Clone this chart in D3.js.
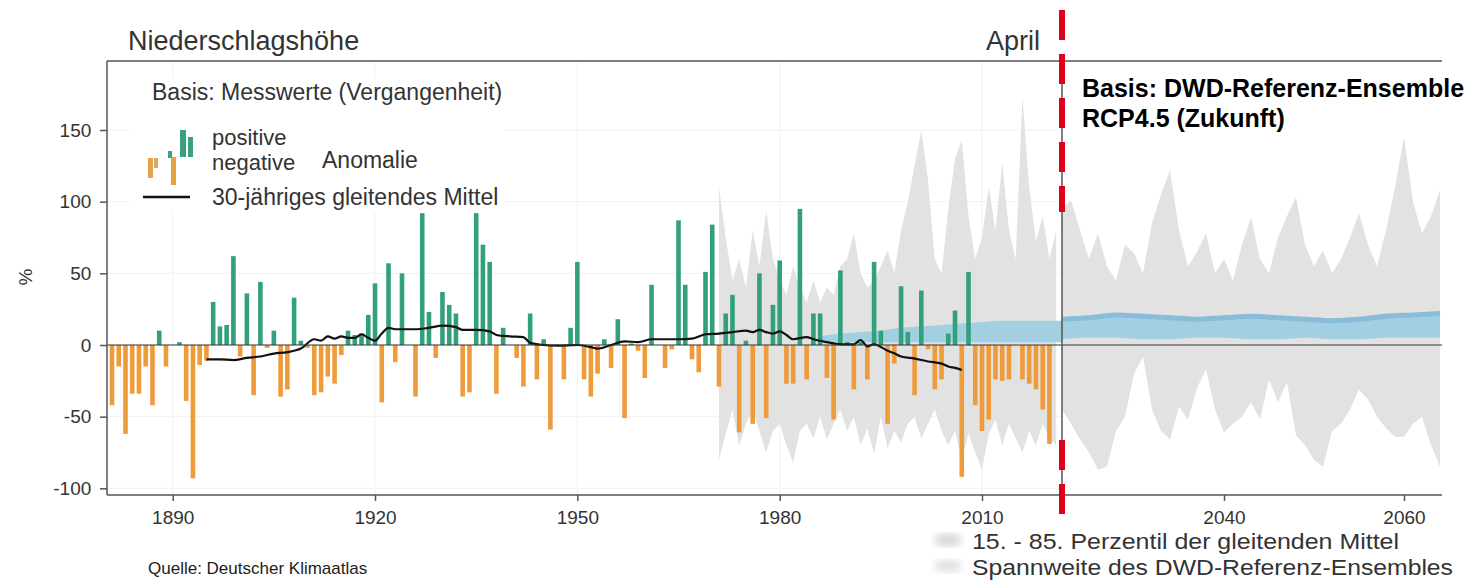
<!DOCTYPE html>
<html>
<head>
<meta charset="utf-8">
<script src="https://cdn.jsdelivr.net/npm/d3@7"></script>
<style>
  body { margin: 0; background: #fff; }
  svg { font-family: "Liberation Sans", Arial, sans-serif; }
</style>
</head>
<body>
<div id="chart"></div>
<script>
// April precipitation anomaly (%), 1881-2020
const firstYear = 1881;
const anomalies = [
  -42, -15, -62, -34, -34, -15, -42, 10, -15, 0,
  2, -39, -93, -14, -11, 30, 13, 14, 62, -8,
  36, -35, 44, -2, 10, -36, -31, 33, 3, -2,
  -35, -33, -22, -27, -7, 10, 7, 8, 21, 43,
  -40, 57, -12, 50, 0, -36, 92, 23, -9, 37,
  28, 22, -36, -33, 92, 70, 58, -34, 12, 0,
  -9, -29, 22, -24, 4, -59, 0, -24, 12, 58,
  -24, -36, -20, 4, -16, 18, -51, 1, -4, -23,
  42, 0, -16, -3, 87, 42, -10, -19, 51, 84,
  -29, 22, 35, -61, 3, -55, 50, -51, 28, 59,
  -27, -27, 95, -24, 22, 22, -23, -52, 52, 2,
  -31, 2, -24, 58, 10, -55, -13, 41, 9, -35,
  38, -3, -31, -24, 8, 24, -92, 51, -42, -60,
  -52, -24, -25, -24, 0, -24, -27, -31, -45, -69
];

// 30-jähriges gleitendes Mittel
const maYears = [1895, 1897, 1899, 1901, 1903, 1905, 1907, 1909, 1911, 1912, 1913, 1914, 1915, 1916, 1917, 1918, 1919, 1920,
  1921, 1922, 1923, 1924, 1926, 1928, 1930, 1932, 1933, 1935, 1937, 1938, 1940, 1942, 1943, 1945, 1947, 1950,
  1952, 1953, 1955, 1957, 1959, 1961, 1963, 1965, 1967, 1969, 1971, 1973, 1975, 1976, 1977, 1978, 1979, 1980,
  1981, 1982, 1984, 1985, 1987, 1989, 1991, 1992, 1993, 1994, 1996, 1997, 1998, 2000, 2002, 2004, 2005, 2006, 2007];
const maValues = [-10, -10, -10.5, -9, -8, -6, -5, -2.5, 4, 3, 6, 4.5, 6, 5, 5, 7.5, 5, 3,
  8, 12, 11, 11, 11, 12, 13.5, 12.5, 10.5, 10.5, 9.5, 7, 6, 5.5, 1.5, 0, -0.5, 0,
  -1.5, -2.5, 0, 2.5, 2, 4, 4, 4, 4.5, 7.5, 8, 9, 10, 9, 10.5, 9, 8, 9.5,
  7, 4, 5.5, 4, 2, 0.5, 0.5, 3.5, -1, 0.5, -4, -5.8, -8, -9.5, -11.5, -13, -15, -16, -17.5];

// Spannweite des DWD-Referenz-Ensembles, Vergangenheit (1971-2021)
const ensPastStart = 1971;
const ensPastUpper = [110, 75, 45, 60, 40, 80, 55, 94, 60, 45, 35, 55, 40, 30, 45, 30, 40, 35, 55, 60,
  78, 50, 40, 45, 55, 66, 50, 80, 100, 125, 150, 115, 60, 50, 95, 130, 143, 90, 60, 75,
  110, 80, 127, 80, 60, 173, 110, 72, 90, 60, 80];
const ensPastLower = [-80, -62, -45, -70, -55, -45, -60, -75, -60, -55, -70, -82, -60, -55, -65, -50, -66, -55, -45, -60,
  -50, -70, -58, -76, -50, -72, -60, -68, -55, -50, -65, -55, -45, -60, -70, -60, -80, -62, -75, -87,
  -62, -52, -70, -55, -65, -75, -60, -70, -55, -65, -70];

// Spannweite des DWD-Referenz-Ensembles, Zukunft (2022-2064)
const ensFutStart = 2022;
const ensFutUpper = [95, 101, 80, 60, 78, 55, 45, 70, 64, 50, 85, 105, 122, 80, 55, 65, 78, 50, 60, 45,
  70, 89, 60, 50, 75, 90, 103, 70, 55, 66, 50, 60, 75, 92, 70, 55, 80, 110, 145, 100, 78, 90, 108];
const ensFutLower = [-45, -55, -66, -75, -87, -85, -60, -50, -20, -8, -45, -60, -66, -43, -52, -30, -17, -45, -61, -55,
  -50, -40, -52, -24, -40, -26, -63, -70, -80, -85, -60, -55, -45, -31, -38, -50, -58, -64, -64, -55, -50, -70, -85];

// 15. - 85. Perzentil der gleitenden Mittel
const pctPastYears = [1986, 1989, 1992, 1995, 1998, 2001, 2004, 2007, 2010, 2013, 2016, 2019, 2022];
const pctPastUpper = [6, 8, 9, 10, 12, 13, 14, 15, 16, 17, 17, 17, 17];
const pctPastLower = [2, 2, 2, 2, 2, 2, 2, 2, 2, 2, 2, 2, 2];
const pctFutYears = [2022, 2025, 2028, 2031, 2034, 2037, 2040, 2043, 2046, 2049, 2052, 2055, 2058, 2061, 2064];
const pctFutUpper = [18, 19, 21, 20, 19, 18, 19, 20, 19, 18, 17, 18, 20, 21, 22];
const pctFutLower = [4, 5, 5, 4, 4, 5, 5, 4, 4, 5, 4, 4, 5, 5, 5];

const pastTicks = [1890, 1920, 1950, 1980, 2010];
const futTicks = [2040, 2060];
const yTicks = [150, 100, 50, 0, -50, -100];

const chartWidth = 1473, chartHeight = 584;
const plotLeft = 107, plotRight = 1442, plotTop = 61, plotBottom = 495, splitX = 1062;

const svg = d3.select('#chart').append('svg')
  .attr('width', chartWidth).attr('height', chartHeight);

const xPast = d3.scaleLinear().domain([1890, 2010]).range([172.7, 982]);
const xFut = d3.scaleLinear().domain([2040, 2060]).range([1224, 1404]);
const y = d3.scaleLinear().domain([0, 150]).range([345, 130]);

const defs = svg.append('defs');
defs.append('clipPath').attr('id', 'clipPast').append('rect')
  .attr('x', plotLeft).attr('y', plotTop).attr('width', splitX - plotLeft).attr('height', plotBottom - plotTop);
defs.append('clipPath').attr('id', 'clipFut').append('rect')
  .attr('x', splitX).attr('y', plotTop).attr('width', plotRight - splitX).attr('height', plotBottom - plotTop);

// faint grid
const grid = svg.append('g').attr('stroke', '#f1f1f1').attr('stroke-width', 1);
grid.selectAll('.hg').data(yTicks.filter(d => d !== 0)).enter().append('line')
  .attr('x1', plotLeft).attr('x2', splitX).attr('y1', d => y(d)).attr('y2', d => y(d));
grid.selectAll('.vg').data(pastTicks).enter().append('line')
  .attr('x1', d => xPast(d)).attr('x2', d => xPast(d)).attr('y1', plotTop).attr('y2', plotBottom);

// legend background
svg.append('rect').attr('x', 130).attr('y', 78).attr('width', 375).attr('height', 135).attr('fill', '#fff');

const past = svg.append('g').attr('clip-path', 'url(#clipPast)');
const fut = svg.append('g').attr('clip-path', 'url(#clipFut)');

const ensPast = ensPastUpper.map((u, i) => ({ year: ensPastStart + i, hi: u, lo: ensPastLower[i] }));
const ensFut = ensFutUpper.map((u, i) => ({ year: ensFutStart + i, hi: u, lo: ensFutLower[i] }));
const pctPast = pctPastYears.map((yr, i) => ({ year: yr, hi: pctPastUpper[i], lo: pctPastLower[i] }));
const pctFut = pctFutYears.map((yr, i) => ({ year: yr, hi: pctFutUpper[i], lo: pctFutLower[i] }));

const band = xs => d3.area().x(d => xs(d.year)).y0(d => y(d.lo)).y1(d => y(d.hi));
const smoothBand = xs => d3.area().curve(d3.curveMonotoneX).x(d => xs(d.year)).y0(d => y(d.lo)).y1(d => y(d.hi));

// Ensemble ranges
past.append('path').datum(ensPast).attr('d', band(xPast)).attr('fill', '#e2e2e2');
past.append('path').datum(pctPast).attr('d', smoothBand(xPast)).attr('fill', '#a3cfe3');
fut.append('path').datum(ensFut).attr('d', band(xFut)).attr('fill', '#e2e2e2');
fut.append('path').datum(pctFut).attr('d', smoothBand(xFut)).attr('fill', '#a3cfe3');
fut.append('path').datum(pctFut)
  .attr('d', d3.line().curve(d3.curveMonotoneX).x(d => xFut(d.year)).y(d => y(d.hi)))
  .attr('fill', 'none').attr('stroke', '#88bcd8').attr('stroke-width', 5);

// Anomaly bars
const barW = 4.6;
const bars = anomalies.map((v, i) => ({ year: firstYear + i, value: v }));
past.selectAll('.bar').data(bars).enter().append('rect')
  .attr('x', d => xPast(d.year) - barW / 2)
  .attr('y', d => y(Math.max(0, d.value)))
  .attr('width', barW)
  .attr('height', d => Math.abs(y(d.value) - y(0)))
  .attr('fill', d => d.value >= 0 ? '#33a07c' : '#ee9b3c');

// zero line
svg.append('line').attr('x1', plotLeft).attr('x2', plotRight).attr('y1', y(0)).attr('y2', y(0))
  .attr('stroke', '#333').attr('stroke-width', 1.2);

// moving average
const ma = maYears.map((yr, i) => ({ year: yr, value: maValues[i] }));
past.append('path').datum(ma)
  .attr('d', d3.line().curve(d3.curveMonotoneX).x(d => xPast(d.year)).y(d => y(d.value)))
  .attr('fill', 'none').attr('stroke', '#111').attr('stroke-width', 2.2);

// frame
svg.append('line').attr('x1', plotLeft).attr('x2', plotRight).attr('y1', plotTop).attr('y2', plotTop)
  .attr('stroke', '#555').attr('stroke-width', 1.5);
svg.append('line').attr('x1', splitX).attr('x2', splitX).attr('y1', plotTop).attr('y2', plotBottom)
  .attr('stroke', '#555').attr('stroke-width', 1.5);

// axes
const fmt = d => String(d);
const axisPast = svg.append('g').attr('transform', `translate(0,${plotBottom})`)
  .call(d3.axisBottom(xPast).tickValues(pastTicks).tickFormat(fmt).tickSize(6).tickSizeOuter(0));
axisPast.select('.domain').attr('d', `M${plotLeft},0H${splitX}`);
const axisFut = svg.append('g').attr('transform', `translate(0,${plotBottom})`)
  .call(d3.axisBottom(xFut).tickValues(futTicks).tickFormat(fmt).tickSize(6).tickSizeOuter(0));
axisFut.select('.domain').attr('d', `M${splitX},0H${plotRight}`);
const axisY = svg.append('g').attr('transform', `translate(${plotLeft},0)`)
  .call(d3.axisLeft(y).tickValues(yTicks).tickFormat(fmt).tickSize(7).tickSizeOuter(0));
axisY.select('.domain').attr('d', `M0,${plotTop}V${plotBottom}`);
svg.selectAll('.tick text').attr('font-size', 19).attr('fill', '#333')
  .attr('font-family', '"Liberation Sans", Arial, sans-serif');
svg.selectAll('.domain, .tick line').attr('stroke', '#555').attr('stroke-width', 1.5);
axisPast.selectAll('.tick text').attr('dy', '1.05em');
axisFut.selectAll('.tick text').attr('dy', '1.05em');
axisY.selectAll('.tick text').attr('dx', '-0.3em');

// red dashed divider
const red = svg.append('g').attr('stroke', '#e0001b').attr('stroke-width', 6).attr('stroke-dasharray', '30,14');
red.append('line').attr('x1', splitX).attr('x2', splitX).attr('y1', 10).attr('y2', 212);
red.append('line').attr('x1', splitX).attr('x2', splitX).attr('y1', 440).attr('y2', 524);

// titles
svg.append('text').attr('x', 128).attr('y', 50).attr('font-size', 27).attr('fill', '#333').text('Niederschlagshöhe');
svg.append('text').attr('x', 1040).attr('y', 50).attr('font-size', 27).attr('fill', '#333')
  .attr('text-anchor', 'end').text('April');
svg.append('text').attr('x', 25).attr('y', 277).attr('font-size', 19).attr('fill', '#333')
  .attr('text-anchor', 'middle').attr('transform', 'rotate(-90,25,277)').attr('dy', '0.35em').text('%');

// legend (past)
const lg = svg.append('g').attr('font-size', 23).attr('fill', '#333');
lg.append('text').attr('x', 152).attr('y', 100).text('Basis: Messwerte (Vergangenheit)');
lg.append('text').attr('x', 212).attr('y', 145).attr('font-size', 22).text('positive');
lg.append('text').attr('x', 212).attr('y', 170).attr('font-size', 22).text('negative');
lg.append('text').attr('x', 322).attr('y', 168).text('Anomalie');
lg.append('text').attr('x', 212).attr('y', 205).text('30-jähriges gleitendes Mittel');
lg.append('line').attr('x1', 143).attr('x2', 190).attr('y1', 197).attr('y2', 197)
  .attr('stroke', '#111').attr('stroke-width', 2.5);
const icon = [
  [148, 158, 5, 20, '#e2a350'], [154, 158, 4, 10, '#d9a85a'], [171, 157, 5, 28, '#e6a23f'],
  [168, 151, 4, 7, '#3aa583'], [180, 130, 6, 27, '#3aa07e'], [188, 137, 5, 20, '#3aa07e']
];
lg.selectAll('.ic').data(icon).enter().append('rect')
  .attr('x', d => d[0]).attr('y', d => d[1]).attr('width', d => d[2]).attr('height', d => d[3])
  .attr('fill', d => d[4]);

// future caption
const fc = svg.append('g').attr('font-size', 25).attr('font-weight', 'bold').attr('fill', '#000');
fc.append('text').attr('x', 1082).attr('y', 97).text('Basis: DWD-Referenz-Ensemble');
fc.append('text').attr('x', 1082).attr('y', 127).text('RCP4.5 (Zukunft)');

// source
svg.append('text').attr('x', 148).attr('y', 574).attr('font-size', 17).attr('fill', '#222')
  .text('Quelle: Deutscher Klimaatlas');

// bottom legend (ensemble)
const blur = defs.append('filter').attr('id', 'soft');
blur.append('feGaussianBlur').attr('stdDeviation', 4);
const bl = svg.append('g');
bl.append('ellipse').attr('cx', 948).attr('cy', 540).attr('rx', 14).attr('ry', 6).attr('fill', '#d4d4d4').attr('filter', 'url(#soft)');
bl.append('ellipse').attr('cx', 948).attr('cy', 566).attr('rx', 14).attr('ry', 6).attr('fill', '#dedede').attr('filter', 'url(#soft)');
bl.append('text').attr('x', 972).attr('y', 549).attr('font-size', 22).attr('fill', '#333')
  .attr('textLength', 427).attr('lengthAdjust', 'spacingAndGlyphs')
  .text('15. - 85. Perzentil der gleitenden Mittel');
bl.append('text').attr('x', 972).attr('y', 575).attr('font-size', 22).attr('fill', '#333')
  .attr('textLength', 481).attr('lengthAdjust', 'spacingAndGlyphs')
  .text('Spannweite des DWD-Referenz-Ensembles');
</script>
</body>
</html>
